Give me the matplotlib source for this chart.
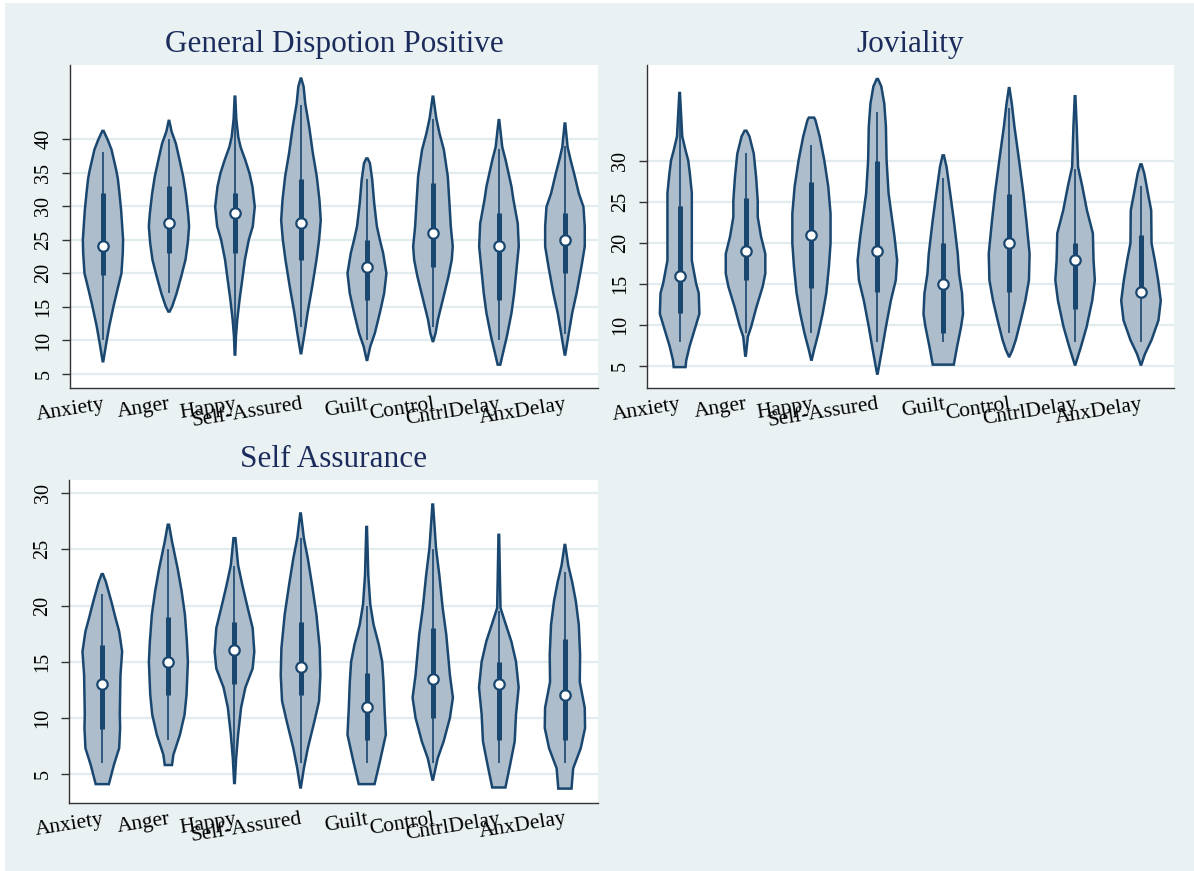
import numpy as np
import matplotlib.pyplot as plt
from matplotlib.patches import Rectangle

plt.rcParams['font.family'] = ['Liberation Serif', 'DejaVu Serif']

groups = ['Anxiety', 'Anger', 'Happy', 'Self-Assured', 'Guilt', 'Control', 'CntrlDelay', 'AnxDelay']

# ---- General Dispotion Positive ----
gdp_median = [24, 27.5, 29, 27.5, 21, 26, 24, 25]
gdp_q1 = [19.75, 23, 23, 22, 16, 21, 16, 20]
gdp_q3 = [32, 33, 32, 34, 25, 33.5, 29, 29]
gdp_lo = [10, 17, 10, 12, 10, 12, 10, 11]
gdp_hi = [38, 40, 43, 45, 34, 43, 38.5, 39]
# outline heights and density (relative half-width) along each violin
gdp_y = [
    [6.9, 9.6, 12.1, 15.1, 18.0, 20.0, 23.0, 25.0, 29.4, 31.9, 34.1, 35.4, 38.4, 39.8, 41.2],
    [14.3, 15.1, 17.0, 19.5, 22.0, 24.5, 27.0, 28.9, 31.9, 34.4, 36.9, 39.3, 41.1, 42.7],
    [7.9, 10.6, 13.1, 16.1, 19.0, 22.0, 25.0, 27.0, 29.9, 32.9, 34.9, 36.9, 38.8, 40.3, 43.0, 46.3],
    [8.1, 11.1, 14.1, 18.0, 22.0, 25.0, 27.9, 30.9, 34.4, 37.9, 41.8, 45.3, 47.8, 49.0],
    [7.1, 9.1, 11.1, 14.1, 17.0, 20.0, 23.0, 25.0, 27.0, 30.4, 33.9, 36.4, 37.1],
    [9.9, 11.1, 13.1, 16.1, 19.5, 22.0, 24.0, 27.0, 30.4, 34.4, 38.4, 40.8, 43.1, 46.3],
    [6.4, 8.1, 10.6, 14.1, 17.0, 21.0, 24.0, 27.4, 30.9, 32.9, 36.9, 38.8, 42.8],
    [7.9, 10.6, 14.1, 17.0, 21.0, 24.0, 27.0, 29.9, 31.9, 34.4, 36.9, 38.8, 42.3],
]
gdp_d = [
    [1, 10, 19, 32, 46, 56, 60, 61, 55, 50, 45, 40, 26, 15, 2],
    [2, 10, 23, 37, 50, 57, 61, 58, 51, 43, 32, 21, 8, 1],
    [1, 3, 7, 14, 22, 30, 42, 54, 60, 53, 44, 31, 17, 10, 4, 1],
    [1, 11, 20, 34, 47, 55, 60, 56, 48, 36, 25, 13, 8, 1],
    [1, 10, 24, 39, 52, 59, 49, 39, 30, 22, 16, 9, 2],
    [1, 8, 15, 30, 47, 57, 60, 54, 50, 45, 33, 20, 10, 1],
    [4, 12, 24, 38, 46, 54, 60, 57, 44, 38, 20, 10, 1],
    [1, 10, 22, 35, 50, 60, 60, 56, 42, 30, 17, 8, 1],
]

# ---- Joviality ----
jov_median = [16, 19, 21, 19, 15, 20, 18, 14]
jov_q1 = [11.5, 15.5, 14.5, 14, 9, 14, 12, 13.5]
jov_q3 = [24.5, 25.5, 27.5, 30, 20, 26, 20, 21]
jov_lo = [8, 9, 9, 8, 8, 9, 8, 8]
jov_hi = [36, 31, 32, 36, 28, 36.5, 29, 27]
jov_y = [
    [4.9, 5.7, 7.4, 9.8, 11.4, 13.9, 15.1, 17.9, 22.0, 26.1, 28.5, 30.1, 31.3, 33.0, 36.0, 38.3],
    [6.3, 8.6, 9.8, 12.2, 14.7, 16.3, 18.7, 20.8, 23.2, 25.2, 28.1, 30.9, 33.0, 33.7],
    [5.8, 7.0, 9.0, 11.4, 13.9, 17.1, 20.0, 23.6, 26.9, 30.1, 33.0, 35.0, 35.3],
    [4.1, 7.0, 9.8, 13.0, 15.5, 17.9, 20.8, 24.0, 26.1, 30.1, 34.2, 37.0, 39.1, 40.0],
    [5.2, 7.4, 9.8, 11.4, 13.9, 16.3, 18.7, 22.8, 26.1, 29.3, 30.7],
    [6.2, 7.0, 8.2, 10.6, 13.0, 15.5, 18.7, 22.8, 26.1, 30.1, 34.2, 37.0, 38.9],
    [5.2, 7.4, 9.8, 13.0, 15.5, 17.9, 21.2, 24.0, 26.9, 29.3, 34.2, 37.9],
    [5.2, 6.5, 8.2, 10.6, 13.0, 15.5, 17.9, 20.0, 24.0, 26.1, 28.5, 29.6],
]
jov_d = [
    [18, 20, 30, 48, 60, 58, 50, 37, 37, 37, 31, 26, 18, 8, 4, 1],
    [1, 7, 17, 33, 52, 60, 60, 47, 37, 37, 32, 25, 12, 3],
    [1, 8, 21, 34, 45, 53, 58, 58, 51, 39, 25, 12, 8],
    [1, 14, 26, 41, 56, 60, 52, 41, 34, 28, 26, 21, 12, 2],
    [32, 42, 54, 60, 57, 48, 44, 32, 21, 10, 2],
    [1, 10, 20, 35, 49, 60, 62, 52, 43, 30, 16, 8, 1],
    [1, 18, 35, 52, 60, 56, 54, 36, 22, 9, 5, 1],
    [1, 12, 32, 53, 60, 52, 42, 32, 31, 21, 10, 2],
]

# ---- Self Assurance ----
sa_median = [13, 15, 16, 14.5, 11, 13.5, 13, 12]
sa_q1 = [9, 12, 13, 12, 8, 10, 8, 8]
sa_q3 = [16.5, 19, 18.5, 18.5, 14, 18, 15, 17]
sa_lo = [6, 8, 6, 6, 6, 6, 6, 6]
sa_hi = [21, 25, 23.5, 26, 20, 25, 19.5, 23]
sa_y = [
    [4.1, 5.8, 7.3, 9.1, 10.3, 13.8, 15.9, 17.7, 18.9, 20.4, 22.1, 22.8],
    [5.8, 6.7, 8.5, 10.3, 12.1, 15.0, 16.8, 19.2, 21.3, 23.3, 25.7, 27.2],
    [4.2, 6.4, 8.5, 10.9, 12.7, 14.4, 15.9, 18.0, 19.8, 21.8, 23.6, 26.0],
    [3.8, 5.5, 7.3, 9.7, 11.5, 13.8, 16.2, 19.2, 21.8, 24.2, 26.0, 28.2],
    [4.1, 6.1, 8.5, 10.9, 13.2, 15.0, 16.5, 18.3, 20.1, 22.7, 27.0],
    [4.5, 6.4, 7.9, 10.0, 11.8, 13.8, 17.4, 19.8, 22.7, 25.1, 29.0],
    [3.8, 5.8, 7.9, 10.3, 12.7, 15.0, 16.8, 18.6, 19.8, 26.3],
    [3.7, 5.5, 7.3, 9.1, 10.9, 13.2, 15.6, 18.3, 20.4, 22.1, 23.6, 25.4],
]
sa_d = [
    [20, 35, 51, 54, 53, 55, 60, 51, 40, 27, 11, 2],
    [11, 15, 35, 49, 55, 59, 56, 50, 40, 28, 11, 2],
    [1, 5, 11, 20, 33, 55, 60, 55, 40, 24, 11, 3],
    [1, 10, 22, 42, 56, 60, 58, 48, 35, 22, 10, 1],
    [24, 40, 58, 54, 51, 47, 37, 21, 11, 5, 1],
    [1, 15, 33, 52, 61, 52, 41, 30, 20, 10, 1],
    [20, 34, 48, 52, 60, 52, 38, 18, 5, 1],
    [20, 25, 48, 61, 60, 45, 46, 42, 33, 22, 10, 1],
]

NAVY = '#1a476f'
FILL = '#adbdcc'
BG = '#eaf1f3'
GRID = '#e2ebee'
TITLE = '#1b2c5c'
DSCALE = 0.30 / 60   # density units -> half-width on the category axis


def violin(ax, x, ys, dens, q1, q3, lo, hi, med):
    ys = np.asarray(ys, float)
    hw = np.asarray(dens, float) * DSCALE
    px = np.concatenate([x - hw, (x + hw)[::-1]])
    py = np.concatenate([ys, ys[::-1]])
    ax.fill(px, py, facecolor=FILL, edgecolor=NAVY, lw=1.8, zorder=2)
    ax.plot([x, x], [lo, hi], color=NAVY, lw=1.2, solid_capstyle='butt', zorder=3)
    ax.plot([x, x], [q1, q3], color=NAVY, lw=3.6, solid_capstyle='butt', zorder=3)
    ax.plot(x, med, 'o', ms=7.5, mfc='white', mec=NAVY, mew=1.6, zorder=4)


def panel(rect, title, med, q1, q3, lo, hi, ys, dens, ylim, yticks):
    ax = fig.add_axes(rect)
    ax.set_facecolor('white')
    pos = np.arange(1, len(groups) + 1)
    for i, x in enumerate(pos):
        violin(ax, x, ys[i], dens[i], q1[i], q3[i], lo[i], hi[i], med[i])
    ax.set_xlim(0.5, 8.5)
    ax.set_ylim(*ylim)
    ax.set_yticks(yticks)
    for t in yticks:
        ax.axhline(t, color=GRID, lw=1.6, zorder=1)
    ax.set_xticks(pos)
    ax.set_xticklabels(groups, rotation=9, ha='right', va='top',
                       rotation_mode='anchor', fontsize=15.5)
    ax.tick_params(axis='x', length=0, pad=5)
    ax.tick_params(axis='y', length=6, width=1, pad=6, labelsize=14.5,
                   labelrotation=90, color='#333333')
    for lab in ax.get_yticklabels():
        lab.set_va('center')
    for s in ['top', 'right']:
        ax.spines[s].set_visible(False)
    for s in ['left', 'bottom']:
        ax.spines[s].set_color('#333333')
        ax.spines[s].set_linewidth(1)
    ax.text(0.5, 1.064, title, transform=ax.transAxes, ha='center', va='center',
            fontsize=22.5, color=TITLE)
    return ax


fig = plt.figure(figsize=(11.94, 8.71), dpi=100, facecolor='white')
fig.patches.append(Rectangle((5 / 1194, 0), 1 - 5 / 1194, 1 - 3 / 871,
                             transform=fig.transFigure, facecolor=BG,
                             edgecolor='none', zorder=-10))

panel([0.0586, 0.5545, 0.4422, 0.3708], 'General Dispotion Positive',
      gdp_median, gdp_q1, gdp_q3, gdp_lo, gdp_hi, gdp_y, gdp_d,
      (2.92, 51.0), [5, 10, 15, 20, 25, 30, 35, 40])
panel([0.5416, 0.5545, 0.4416, 0.3708], 'Joviality',
      jov_median, jov_q1, jov_q3, jov_lo, jov_hi, jov_y, jov_d,
      (2.35, 41.7), [5, 10, 15, 20, 25, 30])
panel([0.0580, 0.0781, 0.4428, 0.3708], 'Self Assurance',
      sa_median, sa_q1, sa_q3, sa_lo, sa_hi, sa_y, sa_d,
      (2.42, 31.18), [5, 10, 15, 20, 25, 30])

fig.savefig('out.png', dpi=100)
